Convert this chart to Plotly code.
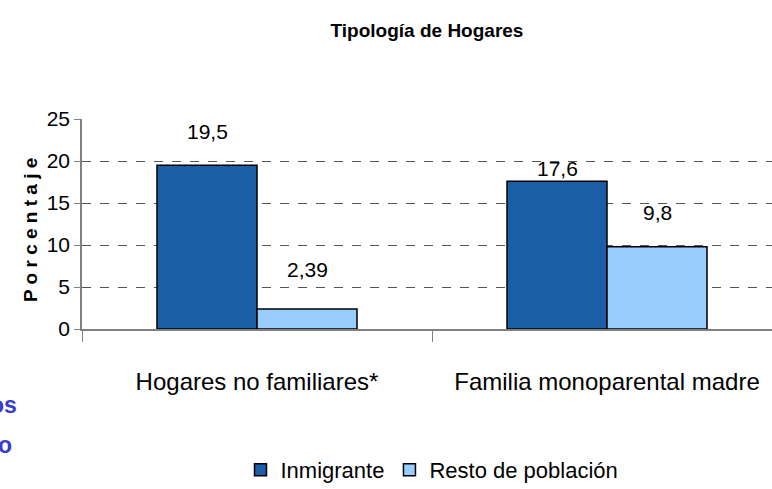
import plotly.graph_objects as go

categories = ["Hogares no familiares*", "Familia monoparental madre"]
inmigrante = [19.5, 17.6]
resto = [2.39, 9.8]
inmigrante_labels = ["19,5", "17,6"]
resto_labels = ["2,39", "9,8"]

FONT = "Liberation Sans Narrow, Arial Narrow, Liberation Sans, Arial, sans-serif"

W, H = 772, 489
L, T, B, R = 82, 119, 160, 0
PW, PH = W - L - R, H - T - B


def px_x(p):
    return (p - L) / PW


def px_y(p):
    return (H - B - p) / PH


fig = go.Figure()
fig.add_trace(go.Bar(name="Inmigrante", x=categories, y=inmigrante,
                     marker=dict(color="#1A5EA8", line=dict(color="black", width=1.5))))
fig.add_trace(go.Bar(name="Resto de población", x=categories, y=resto,
                     marker=dict(color="#99CCFF", line=dict(color="black", width=1.5))))

# data labels (offsets from bar tops as in the reference)
shifts_inm = [34, 13]
shifts_res = [39, 34]
for i, c in enumerate(categories):
    fig.add_annotation(x=c, y=inmigrante[i], text=inmigrante_labels[i], showarrow=False,
                       xshift=-50, yshift=shifts_inm[i], yanchor="middle",
                       font=dict(family=FONT, size=21, color="black"))
    fig.add_annotation(x=c, y=resto[i], text=resto_labels[i], showarrow=False,
                       xshift=50, yshift=shifts_res[i], yanchor="middle",
                       font=dict(family=FONT, size=21, color="black"))

# y axis title
fig.add_annotation(xref="paper", yref="paper", x=px_x(30), y=px_y(230), textangle=-90,
                   text="<b>P o r c e n t a j e</b>", showarrow=False,
                   xanchor="center", yanchor="middle",
                   font=dict(family=FONT, size=19, color="black"))

# partial slide text at left
fig.add_annotation(xref="paper", yref="paper", x=px_x(19), y=px_y(405),
                   text="os", showarrow=False, xanchor="right", yanchor="middle",
                   font=dict(family="Liberation Sans, Arial, sans-serif", size=23, color="#3A3ACC", weight="bold"))
fig.add_annotation(xref="paper", yref="paper", x=px_x(14), y=px_y(445),
                   text="o", showarrow=False, xanchor="right", yanchor="middle",
                   font=dict(family="Liberation Sans, Arial, sans-serif", size=23, color="#3A3ACC", weight="bold"))

fig.update_layout(
    width=W, height=H,
    margin=dict(l=L, r=R, t=T, b=B, autoexpand=False),
    paper_bgcolor="white", plot_bgcolor="white",
    barmode="group", bargap=0.4286, bargroupgap=0,
    title=dict(text="<b>Tipología de Hogares</b>", x=0.5, xref="paper", y=1 - 30 / H, yanchor="middle",
               font=dict(family=FONT, size=19, color="black")),
    showlegend=True,
    legend=dict(orientation="h", x=px_x(432), xref="paper", xanchor="center", y=px_y(470),
                yanchor="middle", font=dict(family=FONT, size=22, color="black"),
                itemwidth=30, traceorder="normal"),
    xaxis=dict(range=[-0.5, PW / 350 - 0.5], showline=True, linecolor="#808080", linewidth=1.5,
               ticks="outside", tickson="boundaries", ticklen=11, tickcolor="#808080",
               tickfont=dict(family=FONT, size=24, color="black"), showgrid=False,
               ticklabelstandoff=30, automargin=False, fixedrange=True),
    yaxis=dict(range=[0, 25], dtick=5, showline=True, linecolor="#808080", linewidth=1.5,
               ticks="outside", ticklen=6, tickcolor="#808080",
               tickfont=dict(family=FONT, size=21, color="black"),
               showgrid=True, gridcolor="#555555", griddash="dash", gridwidth=1,
               zeroline=False, automargin=False),
)

fig.write_html("out.html", config={"displayModeBar": False},
               post_script="document.body.style.margin='0';document.body.style.padding='0';"
                           "document.body.style.overflow='hidden';")
